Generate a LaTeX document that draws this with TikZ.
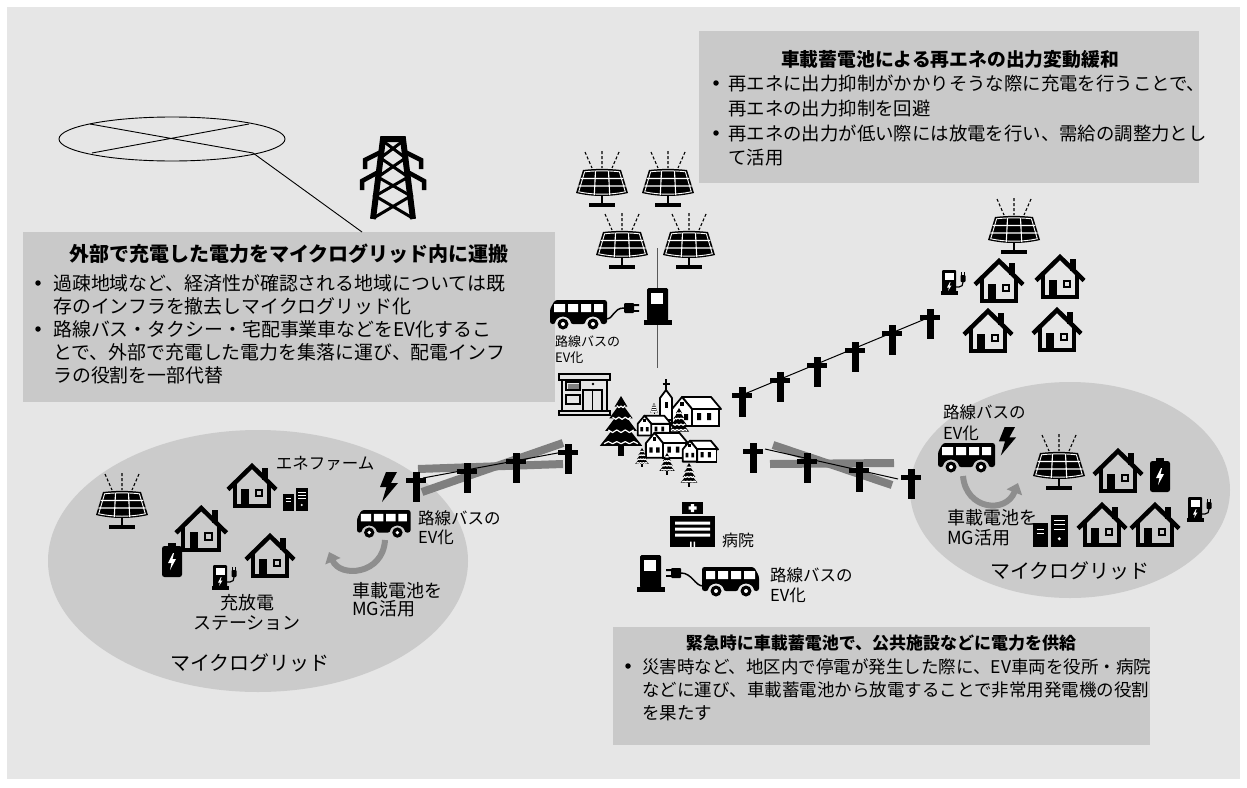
\documentclass[tikz,border=0pt]{standalone}
\usepackage{fontspec}
\setmainfont{Noto Sans CJK JP}
\usetikzlibrary{arrows.meta,shapes.geometric}
\definecolor{bgc}{HTML}{E6E6E6}
\definecolor{boxc}{HTML}{C9C9C9}
\definecolor{mgc}{HTML}{CBCBCB}
\definecolor{bandc}{HTML}{7F7F7F}
\definecolor{arrc}{HTML}{8E8E8E}
\newcommand{\fsz}[1]{\fontsize{#1}{#1}\selectfont}

\tikzset{
  bodytxt/.style={anchor=base west, font=\fsz{18}},
  ttl/.style={anchor=base, font=\fsz{18}\bfseries},
  bul/.style={circle, fill=black, minimum size=5.5pt},
  lbl/.style={anchor=base west, font=\fsz{16.5}},
  lblc/.style={anchor=base, font=\fsz{18}},
  infobox/.style={fill=boxc, anchor=north west},
  gridband/.style={bandc, line width=8pt},
  wire/.style={black, line width=1pt},
  swaparrow/.style={arrc, line width=6pt, -{Triangle[length=10pt,width=16pt]}},
  solarpanel/.pic={
    \draw[line width=1.1pt, dash pattern=on 3pt off 2pt] (9,2)--(16,18) (26,1)--(26,18) (43,2)--(36,18);
    \fill (7,20) .. controls (20,18.5) and (32,18.5) .. (45,20) -- (52,43) .. controls (35,47) and (17,47) .. (0,43) -- cycle;
    \draw[white, line width=0.9pt] (8.6,21.8) .. controls (20,20.5) and (32,20.5) .. (43.4,21.8) -- (49.3,41.8) .. controls (34,45) and (18,45) .. (2.7,41.8) -- cycle;
    \draw[white, line width=1.1pt] (4.6,28.5) -- (47.4,28.5) (2.3,36) -- (49.7,36) (19.5,21) -- (18.3,45) (32.5,21) -- (33.7,45);
    \fill (24.6,45) rectangle (27.4,53);
    \fill (13,52.5) rectangle (39,56.5);
  },
  house/.pic={
    \fill (35,5) rectangle (40.5,17);
    \draw[line width=4.5pt, miter limit=10] (1,26.5) -- (25,3) -- (49,26.5);
    \draw[line width=4pt, line join=miter] (8,21) -- (8,43) -- (42,43) -- (42,21);
    \fill (14,26) rectangle (22,43);
    \draw[line width=2pt] (28.5,26.5) rectangle (35,33);
  },
  bus/.pic={
    \fill[rounded corners=2.5pt] (0,24) -- (0,9) -- (5,0) -- (57,0) -- (57,24) -- (50.5,24)
      arc[start angle=0,end angle=-180,radius=7.5] -- (20.5,24)
      arc[start angle=0,end angle=-180,radius=7.5] -- cycle;
    \fill[white] (4,4) rectangle (15,12) (18,4) rectangle (28,12) (31,4) rectangle (41,12) (44,4) rectangle (53,12);
    \fill (13,24) circle (5.5) (43,24) circle (5.5);
    \fill[white] (13,24) circle (2) (43,24) circle (2);
  },
  charger/.pic={
    \fill[rounded corners=1.5pt] (0,0) rectangle (21,33);
    \fill[white] (4,5) rectangle (16,15.5);
    \fill (-3.5,32) rectangle (25,36.5);
  },
  plug/.pic={
    \fill[rounded corners=1pt] (0,-5) rectangle (10,5);
    \fill (10,-3.8) rectangle (15,-2) (10,2) rectangle (15,3.8);
  },
  evstation/.pic={
    \fill[rounded corners=1pt] (0,0) rectangle (14,22);
    \fill[white] (2.5,3) rectangle (11.5,10);
    \fill[white] (8,12) -- (5,17.5) -- (7,17.5) -- (6,21) -- (9.5,15.5) -- (7.5,15.5) -- (8.5,12) -- cycle;
    \fill (-1.5,21) rectangle (16,24.5);
    \draw[line width=1.2pt] (14,17) -- (17,17) .. controls (20,17) and (21,15) .. (21,12);
    \fill[rounded corners=0.8pt] (18.5,5) rectangle (23.5,12);
    \draw[line width=1.1pt] (19.8,5) -- (19.8,1.5) (22.2,5) -- (22.2,1.5);
  },
  battery/.pic={
    \fill (6,0) rectangle (14,4);
    \fill[rounded corners=2.5pt] (0,3) rectangle (20,34);
    \fill[white] (11,10) -- (6,20) -- (9.5,20) -- (8,27) -- (14,16) -- (10.5,16) -- (12,10) -- cycle;
  },
  bolt/.pic={
    \fill (8,0) -- (19,0) -- (13,11) -- (20,11) -- (4,30) -- (8.5,15) -- (2,15) -- cycle;
  },
  enefarm/.pic={
    \fill (0,6) rectangle (10.5,23);
    \fill (12.5,0) rectangle (25,23);
    \draw[white, line width=1pt] (2.5,10) -- (8,10) (2.5,13) -- (8,13);
    \draw[white, line width=1pt] (15,4) -- (22.5,4) (15,7) -- (22.5,7) (15,10) -- (22.5,10);
    \fill[white] (18.75,17) circle (1.2);
  },
  pole/.pic={
    \fill (-3.5,0) rectangle (3.5,30);
    \fill (-10,6) rectangle (10,11);
  },
  pylon/.pic={
    \draw[line width=6pt, line join=miter] (10,80) -- (20,0) -- (40,0) -- (50,80);
    \draw[line width=3pt] (20,2) -- (42.6,19) -- (14.8,38) -- (47.8,57) -- (10.5,79)
                          (40,2) -- (17.4,19) -- (45.2,38) -- (12.2,57) -- (49.5,79);
    \draw[line width=4.5pt] (18,13) -- (2,21) -- (2,30) (42,13) -- (58,21) -- (58,30);
    \draw[line width=4.5pt] (15.5,33) -- (-1,42) -- (-1,51) (44.5,33) -- (61,42) -- (61,51);
  },
  snowtree/.pic={
    \fill (0,0) -- (6,10) -- (3,10) -- (11,21) -- (6,21) -- (15,33) -- (9,33) -- (20,47) -- (-20,47)
      -- (-9,33) -- (-15,33) -- (-6,21) -- (-11,21) -- (-3,10) -- (-6,10) -- cycle;
    \fill (-2.5,46) rectangle (2.5,57);
    \draw[white, line width=1.2pt, line join=round]
      (-4,9) -- (-2,11) -- (0,9.5) -- (2,11) -- (4,9)
      (-8,20) -- (-5,22) -- (-2,20) -- (1,22) -- (4,20) -- (7,22) -- (9,20)
      (-12,32) -- (-8,34.5) -- (-4,32) -- (0,34.5) -- (4,32) -- (8,34.5) -- (12,32)
      (-16,45) -- (-12,43) -- (-8,45) -- (-4,43) -- (0,45) -- (4,43) -- (8,45) -- (12,43) -- (16,45);
  },
  cottage/.pic={
    \filldraw[fill=white, line width=1.8pt, line join=round] (11,1) -- (40,1) -- (50,13) -- (21,13) -- cycle;
    \filldraw[fill=white, line width=1.8pt] (21,13) -- (48,13) -- (48,30) -- (21,30) -- cycle;
    \filldraw[fill=white, line width=1.8pt, line join=round] (1,13) -- (11,1) -- (21,13) -- (21,30) -- (1,30) -- cycle;
    \fill (26,17) rectangle (30,24) (36,17) rectangle (40,24) (5,18) rectangle (9,24) (13,18) rectangle (17,24);
    \fill (9,6) rectangle (13,10);
  },
  hospital/.pic={
    \fill (12,0) rectangle (33,12);
    \fill[white] (20.8,2) rectangle (24.2,10) (18.5,4.3) rectangle (26.5,7.7);
    \fill (0,14) rectangle (45,45);
    \fill[white] (5,19.5) rectangle (40,22.5) (5,25.5) rectangle (40,28.5) (5,31.5) rectangle (40,34.5)
      (20,39.5) rectangle (21.5,45) (23.5,39.5) rectangle (25,45);
  },
  office/.pic={
    \draw[line width=2pt] (1,1) rectangle (52,6.5);
    \draw[line width=2pt] (4,6.5) -- (4,38) (49,6.5) -- (49,38);
    \draw[line width=2pt] (1,38) rectangle (52,42);
    \draw[line width=1.5pt] (8,9) rectangle (22,17);
    \fill[gray] (9.5,10.5) rectangle (20.5,15.5);
    \draw[line width=1.5pt] (8,22) rectangle (22,31);
    \draw[line width=1.5pt] (25,17) rectangle (44,38) (34.5,17) -- (34.5,38);
    \fill (35,11) circle (1.3);
  }
}

\begin{document}
\begin{tikzpicture}[x=1pt,y=-1pt, every node/.style={inner sep=0pt}]
\useasboundingbox (0,0) rectangle (1247,787);
\fill[white] (0,0) rectangle (1247,787);
\fill[bgc] (7,7) rectangle (1240,779);

% microgrid areas
\node[ellipse, fill=mgc, minimum width=420pt, minimum height=262pt] (mgleft) at (258,561) {};
\node[ellipse, fill=mgc, minimum width=320pt, minimum height=216pt] (mgright) at (1070,490) {};

% information boxes
\node[infobox, minimum width=532pt, minimum height=170pt] (boxcarry) at (23,232) {};
\node[infobox, minimum width=500pt, minimum height=152pt] (boxres) at (699,31) {};
\node[infobox, minimum width=537pt, minimum height=118pt] (boxsos) at (613,627) {};

% grid map with link to the pylon
\node[ellipse, draw, line width=0.9pt, minimum width=226pt, minimum height=44pt] (gridmap) at (172,139) {};
\coordinate (gm1) at (90,124); \coordinate (gm2) at (253,153);
\coordinate (gm3) at (92,153); \coordinate (gm4) at (249,124);
\coordinate (linkend) at (362,232);
\draw[line width=0.9pt] (gm1) -- (gm2) (gm3) -- (gm4);
\draw[line width=0.9pt] (gm2) -- (linkend);
\pic (pylon) at (363,139) {pylon};

% solar farm feeding the charger
\coordinate (farmfoot) at (657,248);
\coordinate (chgfoot) at (657,368);
\draw[gray!70!black, line width=1pt] (farmfoot) -- (chgfoot);
\pic (pv1) at (576,150) {solarpanel};
\pic (pv2) at (642,150) {solarpanel};
\pic (pv3) at (596,212) {solarpanel};
\pic (pv4) at (663,212) {solarpanel};
\pic (bustop) at (550,300) {bus};
\pic (chgtop) at (647,288) {charger};
\coordinate (bustopjack) at (606,319);
\coordinate (plugtopin) at (624,308);
\draw[line width=1.5pt] (bustopjack) .. controls (614,319) and (613,308) .. (plugtopin);
\pic (plugtop) at (624,308) {plug};
\node[anchor=base west, font=\fsz{13}] (bustoplbl1) at (555,346) {路線バスの};
\node[anchor=base west, font=\fsz{13}] (bustoplbl2) at (555,362) {EV化};

% station building and village
\pic (station) at (558,373) {office};
\pic (cotB) at (671,396) {cottage};
\filldraw[fill=white, line width=1.8pt, line join=round] (660,398) -- (666,390) -- (672,398) -- (672,420) -- (660,420) -- cycle;
\draw[line width=1.5pt] (666,379) -- (666,390) (662.5,384) -- (669.5,384);
\fill (664.5,402) rectangle (667.5,408);
\pic[scale=0.68] (cotA) at (637,415) {cottage};
\pic[scale=0.5] (treeM) at (679,408) {snowtree};
\pic[scale=0.2] (treeT) at (654,403) {snowtree};
\pic[scale=0.86] (cotC) at (645,432) {cottage};
\pic[scale=0.72] (cotD) at (682,440) {cottage};
\pic[scale=0.34] (treeS1) at (642,448) {snowtree};
\pic[scale=0.38] (treeS2) at (667,453) {snowtree};
\pic[scale=0.42] (treeS3) at (689,463) {snowtree};
\pic[scale=1.06] (treeBig) at (621,396) {snowtree};

% hospital and emergency supply
\pic (hosp) at (670,502) {hospital};
\node[anchor=base west, font=\fsz{16}] (hosplbl) at (722,546) {病院};
\pic (chgbot) at (640,555) {charger};
\pic[xscale=-1] (busbot) at (759,567) {bus};
\coordinate (plugbotout) at (681,573);
\coordinate (busbotjack) at (703,586);
\pic[xscale=-1] (plugbot) at (681,573) {plug};
\draw[line width=1.5pt] (plugbotout) .. controls (692,573) and (695,586) .. (busbotjack);
\node[lbl] (busbotlbl1) at (770,581) {路線バスの};
\node[lbl] (busbotlbl2) at (770,601) {EV化};

% distribution line to the upper houses
\foreach \i/\x/\y in {1/742/387, 2/780/372, 3/817/357, 4/855/342, 5/892/325, 6/930/309}
  \coordinate (ne\i) at (\x,\y+8);
\draw[wire] (ne1) -- (ne6);
\foreach \i/\x/\y in {1/742/387, 2/780/372, 3/817/357, 4/855/342, 5/892/325, 6/930/309}
  \pic (nepole\i) at (\x,\y) {pole};

% cut-off lines to the microgrids
\coordinate (wb1) at (422,492); \coordinate (wb2) at (563,443);
\coordinate (wb3) at (418,469); \coordinate (wb4) at (563,464);
\coordinate (ww1) at (423,478); \coordinate (ww2) at (563,452);
\draw[gridband] (wb1) -- (wb2);
\draw[gridband] (wb3) -- (wb4);
\draw[wire] (ww1) -- (ww2);
\foreach \i/\x/\y in {1/416/472, 2/467/463, 3/516/453, 4/568/444}
  \pic (wpole\i) at (\x,\y) {pole};

\coordinate (eb1) at (773,445); \coordinate (eb2) at (892,485);
\coordinate (eb3) at (770,464); \coordinate (eb4) at (894,463);
\coordinate (ew1) at (765,449); \coordinate (ew2) at (898,479);
\draw[gridband] (eb1) -- (eb2);
\draw[gridband] (eb3) -- (eb4);
\draw[wire] (ew1) -- (ew2);
\foreach \i/\x/\y in {1/753/443, 2/807/453, 3/859/462, 4/911/469}
  \pic (epole\i) at (\x,\y) {pole};

% upper houses
\pic (pvNE) at (988,197) {solarpanel};
\pic (evNE) at (942,270) {evstation};
\pic (hNE1) at (974,258) {house};
\pic (hNE2) at (1035,254) {house};
\pic (hNE3) at (963,308) {house};
\pic (hNE4) at (1032,307) {house};

% left microgrid
\pic (pvL) at (96,472) {solarpanel};
\pic (hL1) at (227,463) {house};
\pic (efL) at (283,488) {enefarm};
\node[anchor=base, font=\fsz{16.5}] (eflbl) at (325,469) {エネファーム};
\pic[scale=1.05] (hL2) at (175,505) {house};
\pic (batL) at (162,543) {battery};
\pic (hL3) at (245,533) {house};
\pic (evL) at (213,565) {evstation};
\node[lblc] (stlbl1) at (247,609) {充放電};
\node[lblc] (stlbl2) at (247,629) {ステーション};
\pic (boltL) at (378,472) {bolt};
\pic[scale=0.94] (busL) at (357,510) {bus};
\node[lbl] (busLlbl1) at (418,524) {路線バスの};
\node[lbl] (busLlbl2) at (418,543) {EV化};
\coordinate (arL1) at (385,540); \coordinate (arL2) at (329,552);
\draw[swaparrow] (arL1) .. controls (383,575) and (340,578) .. (arL2);
\node[anchor=base west, font=\fsz{18}] (mgLlbl1) at (352,597) {車載電池を};
\node[anchor=base west, font=\fsz{18}] (mgLlbl2) at (352,615) {MG活用};
\node[anchor=base, font=\fsz{20}] (mgLname) at (250,670) {マイクログリッド};

% right microgrid
\node[lbl] (busRlbl1) at (943,418) {路線バスの};
\node[lbl] (busRlbl2) at (943,439) {EV化};
\pic (busR) at (938,443) {bus};
\pic[scale=0.95] (boltR) at (997,427) {bolt};
\coordinate (arR1) at (963,476); \coordinate (arR2) at (1018,483);
\draw[swaparrow] (arR1) .. controls (966,510) and (1006,514) .. (arR2);
\pic (pvR) at (1033,433) {solarpanel};
\pic (hR1) at (1093,448) {house};
\pic (batR) at (1150,458) {battery};
\pic (evR) at (1188,497) {evstation};
\pic[scale=1.4] (efR) at (1033,515) {enefarm};
\pic (hR2) at (1077,502) {house};
\pic (hR3) at (1130,502) {house};
\node[anchor=base west, font=\fsz{18}] (mgRlbl1) at (947,524) {車載電池を};
\node[anchor=base west, font=\fsz{18}] (mgRlbl2) at (947,544) {MG活用};
\node[anchor=base, font=\fsz{20}] (mgRname) at (1070,578) {マイクログリッド};

% texts: carrying power into the microgrid
\node[ttl, font=\fsz{20}\bfseries] (carryT) at (289,261) {外部で充電した電力をマイクログリッド内に運搬};
\node[bul] (carryB1) at (38,283) {};
\node[bodytxt, font=\fsz{18.9}] (carryL1) at (53,290) {過疎地域など、経済性が確認される地域については既};
\node[bodytxt, font=\fsz{18.9}] (carryL2) at (53,313) {存のインフラを撤去しマイクログリッド化};
\node[bul] (carryB2) at (38,329) {};
\node[bodytxt, font=\fsz{18.9}] (carryL3) at (53,336) {路線バス・タクシー・宅配事業車などをEV化するこ};
\node[bodytxt, font=\fsz{18.9}] (carryL4) at (53,359) {とで、外部で充電した電力を集落に運び、配電インフ};
\node[bodytxt, font=\fsz{18.9}] (carryL5) at (53,382) {ラの役割を一部代替};

% texts: smoothing renewable output
\node[ttl, font=\fsz{18.8}\bfseries] (resT) at (950,66) {車載蓄電池による再エネの出力変動緩和};
\node[bul] (resB1) at (716,83) {};
\node[bodytxt, font=\fsz{18.4}] (resL1) at (728,90) {再エネに出力抑制がかかりそうな際に充電を行うことで、};
\node[bodytxt, font=\fsz{18.4}] (resL2) at (728,115) {再エネの出力抑制を回避};
\node[bul] (resB2) at (716,133) {};
\node[bodytxt, font=\fsz{18.4}] (resL3) at (728,140) {再エネの出力が低い際には放電を行い、需給の調整力とし};
\node[bodytxt, font=\fsz{18.4}] (resL4) at (728,164) {て活用};

% texts: emergency supply
\node[ttl, font=\fsz{17}\bfseries] (sosT) at (881,649) {緊急時に車載蓄電池で、公共施設などに電力を供給};
\node[bul] (sosB1) at (628,666) {};
\node[bodytxt, font=\fsz{17.5}] (sosL1) at (642,673) {災害時など、地区内で停電が発生した際に、EV車両を役所・病院};
\node[bodytxt, font=\fsz{17.5}] (sosL2) at (642,696) {などに運び、車載蓄電池から放電することで非常用発電機の役割};
\node[bodytxt, font=\fsz{17.5}] (sosL3) at (642,719) {を果たす};
\end{tikzpicture}
\end{document}
